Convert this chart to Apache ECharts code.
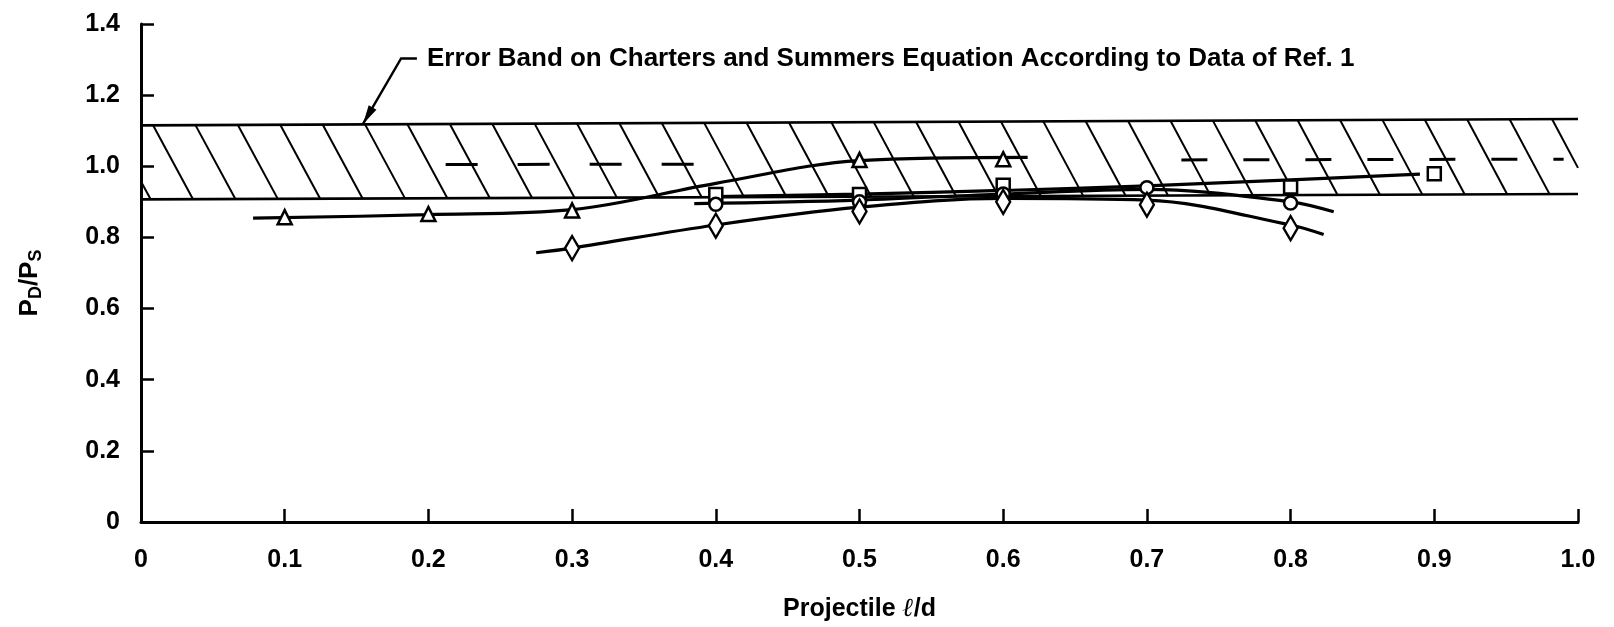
<!DOCTYPE html>
<html>
<head>
<meta charset="utf-8">
<script src="https://cdn.jsdelivr.net/npm/echarts@6/dist/echarts.min.js"></script>
<style>
  html, body { margin: 0; padding: 0; background: #fff; }
  #chart { width: 1614px; height: 627px; }
</style>
</head>
<body>
<div id="chart"></div>
<script>
// Tick labels
const xTickLabels = ['0', '0.1', '0.2', '0.3', '0.4', '0.5', '0.6', '0.7', '0.8', '0.9', '1.0'];
const yTickLabels = ['0', '0.2', '0.4', '0.6', '0.8', '1.0', '1.2', '1.4'];

// Error band on the Charters and Summers equation (upper and lower edges)
const bandTop = [[0, 1.115], [1, 1.133]];
const bandBottom = [[0, 0.907], [1, 0.922]];

// Charters and Summers equation (dashed, shown in two pieces)
const equationLeft = [[0.212, 1.005], [0.385, 1.006]];
const equationRight = [[0.724, 1.018], [0.99, 1.02]];

// Measured P_D/P_S: triangles
const triangleMarks = [[0.1, 0.857], [0.2, 0.866], [0.3, 0.876], [0.5, 1.018], [0.6, 1.02]];
const triangleCurve = [[0.078, 0.854], [0.2, 0.864], [0.3, 0.878], [0.4, 0.952], [0.5, 1.016], [0.617, 1.025]];

// squares
const squareMarks = [[0.4, 0.921], [0.5, 0.921], [0.6, 0.947], [0.8, 0.942], [0.9, 0.979]];
const squareCurve = [[0.4, 0.915], [0.5, 0.922], [0.6, 0.932], [0.7, 0.945], [0.8, 0.962], [0.89, 0.978]];

// circles
const circleMarks = [[0.4, 0.893], [0.5, 0.9], [0.6, 0.922], [0.7, 0.94], [0.8, 0.897]];
const circleCurve = [[0.385, 0.895], [0.5, 0.905], [0.6, 0.922], [0.7, 0.935], [0.8, 0.9], [0.83, 0.872]];

// diamonds
const diamondMarks = [[0.3, 0.77], [0.4, 0.833], [0.5, 0.873], [0.6, 0.9], [0.7, 0.892], [0.8, 0.826]];
const diamondCurve = [[0.275, 0.757], [0.3, 0.77], [0.4, 0.835], [0.5, 0.885], [0.6, 0.91], [0.7, 0.905], [0.8, 0.835], [0.823, 0.808]];

// Callout for the error band
const noteText = 'Error Band on Charters and Summers Equation According to Data of Ref. 1';
const noteTextAt = [0.199, 1.303];
const noteLeader = [[0.192, 1.303], [0.181, 1.303], [0.1545, 1.119]];

const FONT = "'Liberation Sans', Arial, sans-serif";
const INK = '#000';

function edgeAt(edge, x) {
  const [a, b] = edge;
  return a[1] + (b[1] - a[1]) * (x - a[0]) / (b[0] - a[0]);
}

// Hatched band: two edges plus diagonal strokes clipped to 0..1
function renderBand(params, api) {
  const children = [];
  [bandTop, bandBottom].forEach(edge => {
    children.push({
      type: 'polyline',
      shape: { points: edge.map(p => api.coord(p)) },
      style: { stroke: INK, lineWidth: 2.6, fill: 'none' }
    });
  });
  const step = 0.0295, run = 0.0278;
  for (let xt = -0.0211; xt < 1; xt += step) {
    const p = [xt, edgeAt(bandTop, xt)];
    const q = [xt + run, edgeAt(bandBottom, xt + run)];
    let t0 = 0, t1 = 1;
    if (p[0] < 0) t0 = (0 - p[0]) / (q[0] - p[0]);
    if (q[0] > 1) t1 = (1 - p[0]) / (q[0] - p[0]);
    if (t1 <= t0) continue;
    const at = t => [p[0] + (q[0] - p[0]) * t, p[1] + (q[1] - p[1]) * t];
    const a = api.coord(at(t0)), b = api.coord(at(t1));
    children.push({
      type: 'line',
      shape: { x1: a[0], y1: a[1], x2: b[0], y2: b[1] },
      style: { stroke: INK, lineWidth: 2 }
    });
  }
  return { type: 'group', children };
}

// Callout text, leader and arrowhead
function renderNote(params, api) {
  const pts = noteLeader.map(p => api.coord(p));
  const tip = pts[pts.length - 1], from = pts[pts.length - 2];
  const dx = tip[0] - from[0], dy = tip[1] - from[1];
  const len = Math.hypot(dx, dy), ux = dx / len, uy = dy / len;
  const L = 19, W = 9;
  const bx = tip[0] - ux * L, by = tip[1] - uy * L;
  const textPos = api.coord(noteTextAt);
  return {
    type: 'group',
    children: [
      { type: 'polyline', shape: { points: pts }, style: { stroke: INK, lineWidth: 2.4, fill: 'none' } },
      { type: 'polygon', shape: { points: [tip, [bx - uy * W / 2, by + ux * W / 2], [bx + uy * W / 2, by - ux * W / 2]] }, style: { fill: INK } },
      { type: 'text', x: textPos[0], y: textPos[1],
        style: { text: noteText, fill: INK, font: "bold 26px " + FONT, align: 'left', verticalAlign: 'middle' } }
    ]
  };
}

function curve(data) {
  return {
    type: 'line', data, smooth: 0.35, showSymbol: false, silent: true, z: 3,
    lineStyle: { color: INK, width: 3.2 }
  };
}
function marks(data, symbol, size) {
  return {
    type: 'scatter', data, symbol, symbolSize: size, silent: true, z: 5,
    itemStyle: { color: '#fff', borderColor: INK, borderWidth: 2.5, opacity: 1 }
  };
}
function dashed(data, pattern) {
  return {
    type: 'line', data, showSymbol: false, silent: true, z: 2,
    lineStyle: { color: INK, width: 3, type: pattern }
  };
}

const labelStyle = { color: INK, fontFamily: FONT, fontWeight: 'bold', fontSize: 25 };

const chart = echarts.init(document.getElementById('chart'), null, { renderer: 'canvas' });
chart.setOption({
  animation: false,
  backgroundColor: '#fff',
  grid: { left: 141, right: 36, top: 24, bottom: 98 },
  xAxis: {
    type: 'value', min: 0, max: 1, interval: 0.1,
    axisLine: { show: true, onZero: false, lineStyle: { color: INK, width: 3 } },
    axisTick: { show: true, inside: true, length: 13, lineStyle: { color: INK, width: 2.5 } },
    axisLabel: Object.assign({ margin: 26, formatter: v => xTickLabels[Math.round(v / 0.1)] }, labelStyle),
    splitLine: { show: false },
    name: '{n|Projectile }{l|ℓ}{n|/d}',
    nameLocation: 'middle', nameGap: 74,
    nameTextStyle: {
      rich: {
        n: { fontFamily: FONT, fontWeight: 'bold', fontSize: 25, color: INK },
        l: { fontFamily: "'DejaVu Serif', serif", fontWeight: 'bold', fontStyle: 'italic', fontSize: 26, color: INK }
      }
    }
  },
  yAxis: {
    type: 'value', min: 0, max: 1.4, interval: 0.2,
    axisLine: { show: true, onZero: false, lineStyle: { color: INK, width: 3 } },
    axisTick: { show: true, inside: true, length: 13, lineStyle: { color: INK, width: 2.5 } },
    axisLabel: Object.assign({ margin: 21, formatter: v => yTickLabels[Math.round(v / 0.2)] }, labelStyle),
    splitLine: { show: false },
    name: '{p|P}{s|D}{p|/P}{s|S}',
    nameLocation: 'middle', nameRotate: 90, nameGap: 96,
    nameTextStyle: {
      padding: [0, 20, 0, 0],
      rich: {
        p: { fontFamily: FONT, fontWeight: 'bold', fontSize: 26, lineHeight: 30, color: INK },
        s: { fontFamily: FONT, fontWeight: 'bold', fontSize: 18, lineHeight: 14, verticalAlign: 'bottom', color: INK }
      }
    }
  },
  series: [
    { type: 'custom', coordinateSystem: 'cartesian2d', data: [[0, 0]], silent: true, z: 1, clip: false, renderItem: renderBand },
    { type: 'custom', coordinateSystem: 'cartesian2d', data: [[0, 0]], silent: true, z: 6, clip: false, renderItem: renderNote },
    dashed(equationLeft, [32, 40]),
    dashed(equationRight, [26, 36]),
    curve(triangleCurve),
    curve(squareCurve),
    curve(circleCurve),
    curve(diamondCurve),
    marks(triangleMarks, 'triangle', 14),
    marks(squareMarks, 'rect', 13),
    marks(circleMarks, 'circle', 13),
    marks(diamondMarks, 'diamond', [14, 24])
  ]
});
</script>
</body>
</html>
